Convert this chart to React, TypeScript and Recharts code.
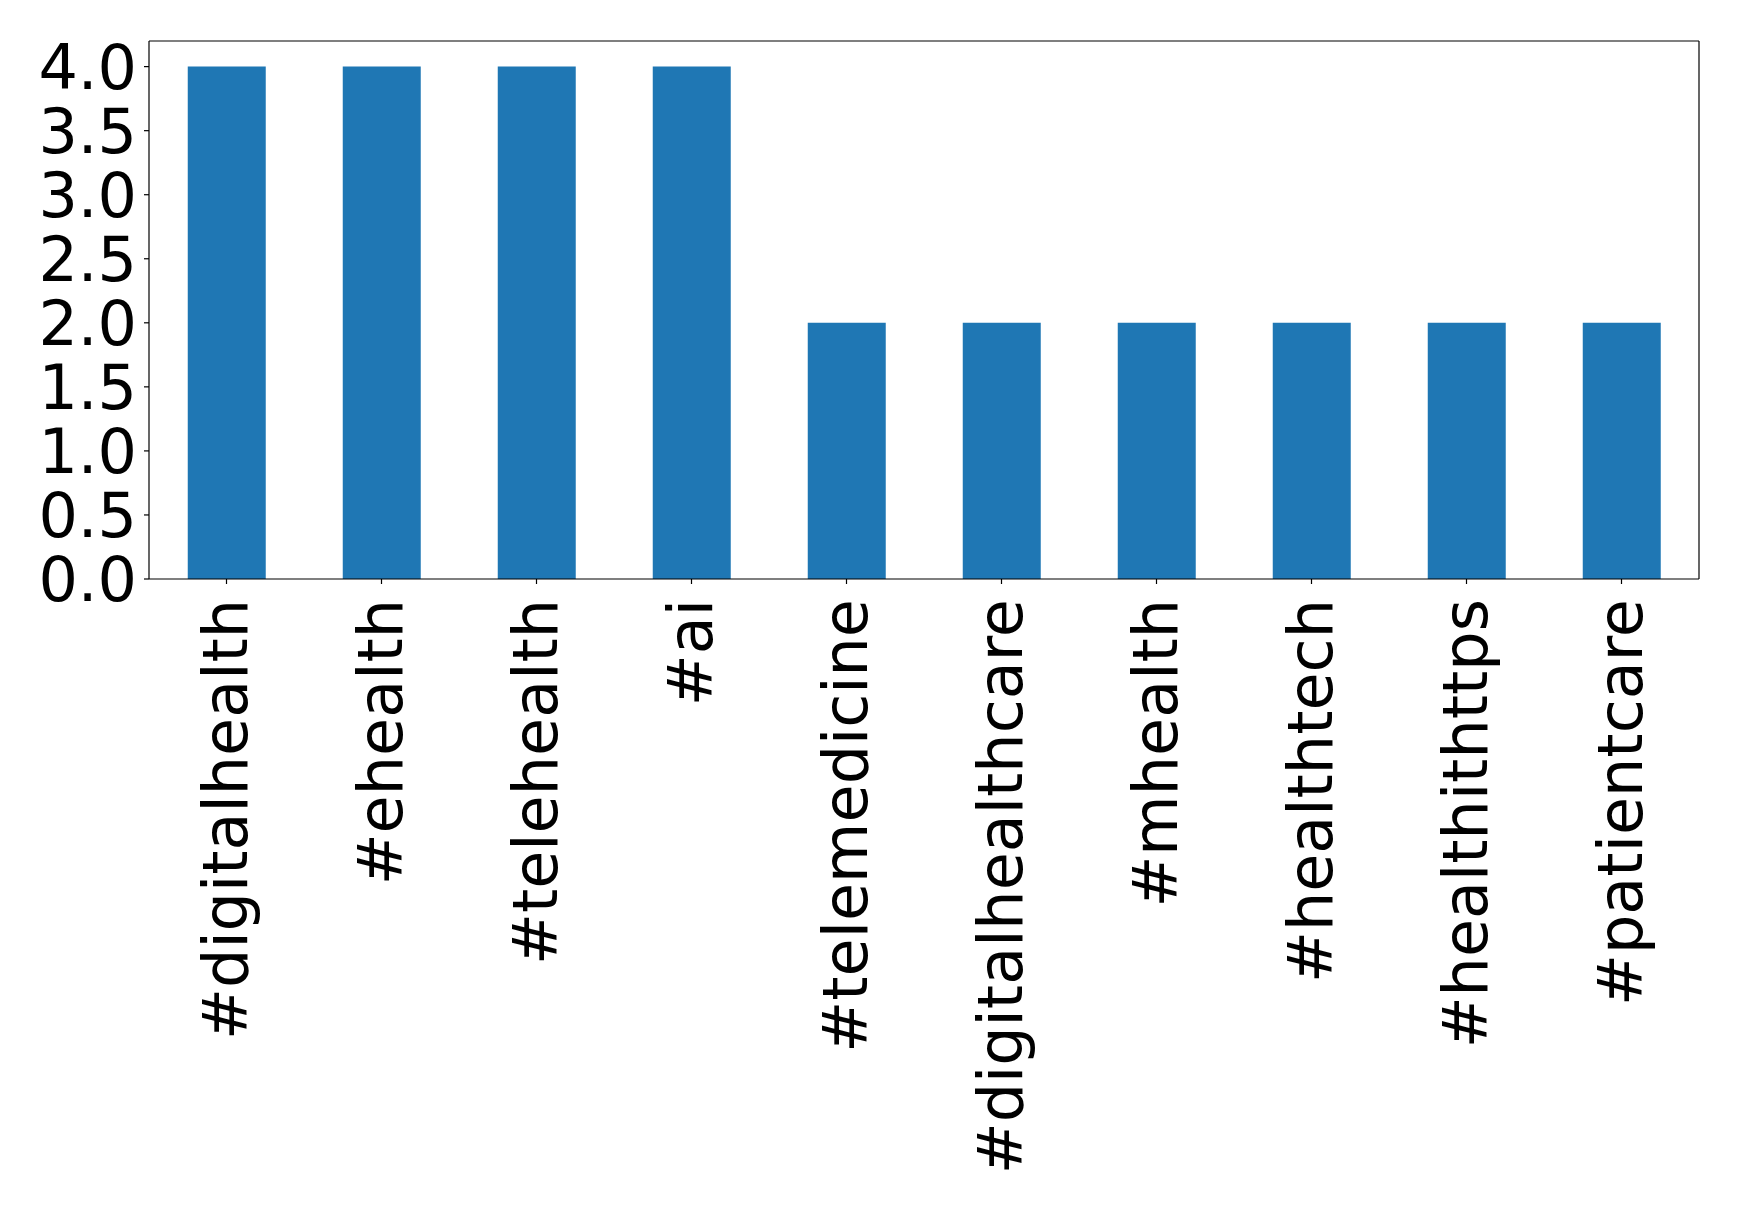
import React from 'react';
import { BarChart, Bar, XAxis, YAxis, ReferenceLine } from 'recharts';

const categories = ['#digitalhealth', '#ehealth', '#telehealth', '#ai', '#telemedicine', '#digitalhealthcare', '#mhealth', '#healthtech', '#healthithttps', '#patientcare'];
const counts = [4, 4, 4, 4, 2, 2, 2, 2, 2, 2];
const yTicks = [0, 0.5, 1.0, 1.5, 2.0, 2.5, 3.0, 3.5, 4.0];
const yMax = 4.2;

const data = categories.map((c, i) => ({ name: c, value: counts[i] }));

const FONT = 'DejaVu Sans';

const XTick = (props: any) => {
  const { x, y, payload } = props;
  return (
    <g transform={`translate(${x},${y + 13}) rotate(-90)`}>
      <text x={0} y={0} dy="0.33em" textAnchor="end" fontFamily={FONT} fontSize={62} fill="#000">
        {payload.value}
      </text>
    </g>
  );
};

export default function App() {
  return (
    <div style={{ position: 'absolute', left: 0, top: 0, background: '#fff' }}>
      <BarChart width={1739} height={1208} data={data} margin={{ top: 41, right: 40, left: 0, bottom: 0 }} barCategoryGap="25%">
        <XAxis dataKey="name" height={629} interval={0} tickSize={5} stroke="#000"
          tickLine={{ stroke: '#000', strokeWidth: 1.2 }} axisLine={{ stroke: '#000', strokeWidth: 1.2 }} tick={<XTick />} />
        <YAxis width={149} domain={[0, yMax]} ticks={yTicks} interval={0} allowDataOverflow tickSize={5} tickMargin={7} stroke="#000"
          tickFormatter={(v: number) => v.toFixed(1)}
          tickLine={{ stroke: '#000', strokeWidth: 1.2 }} axisLine={{ stroke: '#000', strokeWidth: 1.2 }}
          tick={{ fontFamily: FONT, fontSize: 62, fill: '#000' }} />
        <Bar dataKey="value" fill="#1f77b4" isAnimationActive={false} />
        <ReferenceLine y={yMax} stroke="#000" strokeWidth={1.2} ifOverflow="visible" />
        <ReferenceLine x={categories[categories.length - 1]} position="end" stroke="#000" strokeWidth={1.2} ifOverflow="visible" />
      </BarChart>
    </div>
  );
}
